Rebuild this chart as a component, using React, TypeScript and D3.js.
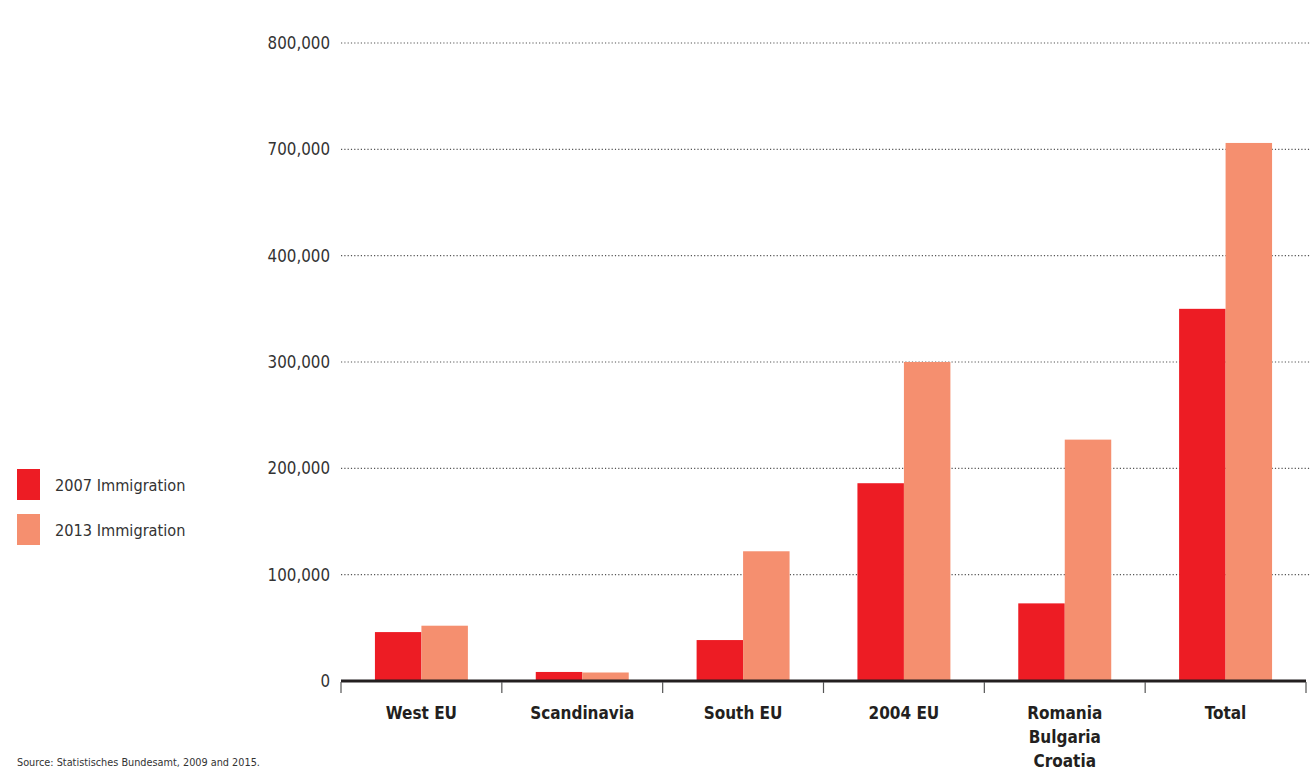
import React, { useRef, useEffect } from "react";
import * as d3 from "d3";

const categories = ["West EU", "Scandinavia", "South EU", "2004 EU", "Romania\nBulgaria\nCroatia", "Total"];
const immigration2007 = [46000, 8500, 38500, 186000, 73000, 350000];
const immigration2013 = [52000, 8000, 122000, 300000, 227000, 706000];
const seriesNames = ["2007 Immigration", "2013 Immigration"];
const yTicks = [0, 100000, 200000, 300000, 400000, 700000, 800000];

const colors = ["#ED1C24", "#F58F6F"];
const font = "'DejaVu Sans Condensed', 'Liberation Sans Narrow', sans-serif";

const App = () => {
  const svgRef = useRef<SVGSVGElement>(null);
  const width = 1311;
  const height = 776;
  const margin = { top: 43, right: 5, bottom: 95, left: 341 };

  useEffect(() => {
    const svg = d3.select(svgRef.current);
    svg.selectAll("*").remove();

    const y0 = height - margin.bottom;
    const step = (y0 - margin.top) / 6;

    // broken axis: 400k jumps straight to 700k
    const y = d3
      .scaleLinear()
      .domain([0, 400000, 700000, 800000])
      .range([y0, y0 - 4 * step, y0 - 5 * step, margin.top]);

    const x = d3
      .scaleBand()
      .domain(categories)
      .range([margin.left, width - margin.right])
      .padding(0);

    const x1 = d3
      .scaleBand()
      .domain(seriesNames)
      .range([0, x.bandwidth()])
      .paddingInner(0)
      .paddingOuter(0.73);

    // Grid lines
    svg
      .selectAll(".grid")
      .data(yTicks.filter((d) => d > 0))
      .join("line")
      .attr("class", "grid")
      .attr("x1", margin.left)
      .attr("x2", width)
      .attr("y1", (d) => y(d))
      .attr("y2", (d) => y(d))
      .attr("stroke", "#555")
      .attr("stroke-width", 1.2)
      .attr("stroke-dasharray", "1.2,2.1");

    // Y labels
    svg
      .selectAll(".y-label")
      .data(yTicks)
      .join("text")
      .attr("class", "y-label")
      .attr("x", 330)
      .attr("y", (d) => y(d))
      .attr("dy", "0.35em")
      .attr("text-anchor", "end")
      .attr("font-family", font)
      .attr("font-size", 16.8)
      .attr("fill", "#333")
      .text((d) => d3.format(",")(d));

    // Bars
    const rows = categories.map((c, i) => ({
      category: c,
      values: [immigration2007[i], immigration2013[i]],
    }));

    svg
      .selectAll(".group")
      .data(rows)
      .join("g")
      .attr("class", "group")
      .attr("transform", (d) => `translate(${x(d.category)},0)`)
      .selectAll("rect")
      .data((d) => d.values.map((v, j) => ({ key: seriesNames[j], value: v, j })))
      .join("rect")
      .attr("x", (d) => x1(d.key))
      .attr("y", (d) => y(d.value))
      .attr("width", x1.bandwidth())
      .attr("height", (d) => y0 - y(d.value))
      .attr("fill", (d) => colors[d.j]);

    // Axis line and ticks
    svg
      .append("line")
      .attr("x1", margin.left)
      .attr("x2", width - margin.right)
      .attr("y1", y0)
      .attr("y2", y0)
      .attr("stroke", "#231F20")
      .attr("stroke-width", 3);

    const bounds = [...categories.map((c) => x(c)), width - margin.right];
    svg
      .selectAll(".tick")
      .data(bounds)
      .join("line")
      .attr("class", "tick")
      .attr("x1", (d) => d)
      .attr("x2", (d) => d)
      .attr("y1", y0 + 1)
      .attr("y2", y0 + 12)
      .attr("stroke", "#555")
      .attr("stroke-width", 1.2);

    // Category labels
    svg
      .selectAll(".x-label")
      .data(categories)
      .join("text")
      .attr("class", "x-label")
      .attr("x", (d) => x(d) + x.bandwidth() / 2)
      .attr("y", 719)
      .attr("text-anchor", "middle")
      .attr("font-family", font)
      .attr("font-size", 17)
      .attr("font-weight", "bold")
      .attr("fill", "#231F20")
      .each(function (d) {
        const t = d3.select(this);
        d.split("\n").forEach((line, i) => {
          t.append("tspan")
            .attr("x", x(d) + x.bandwidth() / 2)
            .attr("dy", i === 0 ? 0 : 24)
            .text(line);
        });
      });

    // Legend
    const legend = svg
      .selectAll(".legend")
      .data(seriesNames)
      .join("g")
      .attr("class", "legend")
      .attr("transform", (d, i) => `translate(17,${469 + i * 45})`);

    legend
      .append("rect")
      .attr("width", 23)
      .attr("height", 31)
      .attr("fill", (d, i) => colors[i]);

    legend
      .append("text")
      .attr("x", 38)
      .attr("y", 16)
      .attr("dy", "0.35em")
      .attr("font-family", font)
      .attr("font-size", 16.2)
      .attr("fill", "#333")
      .text((d) => d);

    // Source
    svg
      .append("text")
      .attr("x", 17)
      .attr("y", 766)
      .attr("font-family", font)
      .attr("font-size", 10.8)
      .attr("fill", "#333")
      .text("Source: Statistisches Bundesamt, 2009 and 2015.");
  }, []);

  return (
    <svg
      ref={svgRef}
      width={width}
      height={height}
      style={{ position: "absolute", left: 0, top: 0, background: "#fff" }}
    />
  );
};

export default App;
